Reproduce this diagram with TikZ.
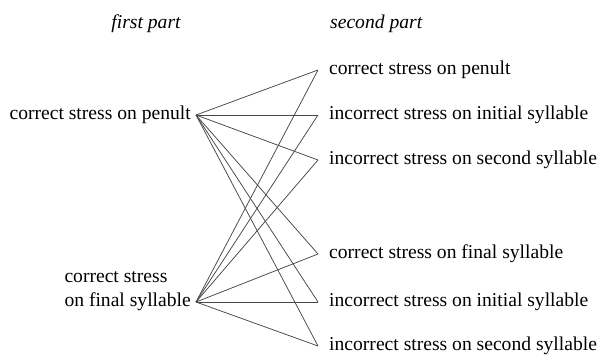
\documentclass[tikz,border=0pt]{standalone}
\usepackage{fontspec}
\setmainfont{Liberation Serif}

\begin{document}
\begin{tikzpicture}[x=1pt, y=-1pt, font=\fontsize{19.6}{23.5}\selectfont,
  part/.style = {font=\fontsize{19.6}{23.5}\selectfont\itshape, inner sep=0, text height=8.8pt, text depth=0pt},
  lhs/.style = {inner xsep=5pt, inner ysep=0, text height=8.8pt, text depth=0pt, anchor=east},
  rhs/.style = {inner xsep=11pt, inner ysep=0, text height=8.8pt, text depth=0pt, anchor=west},
  link/.style = {draw=black!72, line width=0.75pt}]
\useasboundingbox (0,0) rectangle (601,356);
\node[part] (h1) at (146,24) {first part};
\node[part, anchor=west] (h2) at (330,24) {second part};

\node[lhs] (l1) at (196,115) {correct stress on penult};
\node[lhs] (l2) at (196,302) {on final syllable};
\node[lhs, anchor=west] (l2a) at ([yshift=24pt]l2.west) {correct stress};

\node[rhs] (r1) at (318,70) {correct stress on penult};
\node[rhs] (r2) at (318,115) {incorrect stress on initial syllable};
\node[rhs] (r3) at (318,160) {incorrect stress on second syllable};
\node[rhs] (r4) at (318,254) {correct stress on final syllable};
\node[rhs] (r5) at (318,302) {incorrect stress on initial syllable};
\node[rhs] (r6) at (318,346) {incorrect stress on second syllable};

\draw[link] (l1.east) -- (r1.west);
\draw[link] (l1.east) -- (r2.west);
\draw[link] (l1.east) -- (r3.west);
\draw[link] (l1.east) -- (r4.west);
\draw[link] (l1.east) -- (r5.west);
\draw[link] (l1.east) -- (r6.west);
\draw[link] (l2.east) -- (r1.west);
\draw[link] (l2.east) -- (r2.west);
\draw[link] (l2.east) -- (r3.west);
\draw[link] (l2.east) -- (r4.west);
\draw[link] (l2.east) -- (r5.west);
\draw[link] (l2.east) -- (r6.west);
\end{tikzpicture}
\end{document}
